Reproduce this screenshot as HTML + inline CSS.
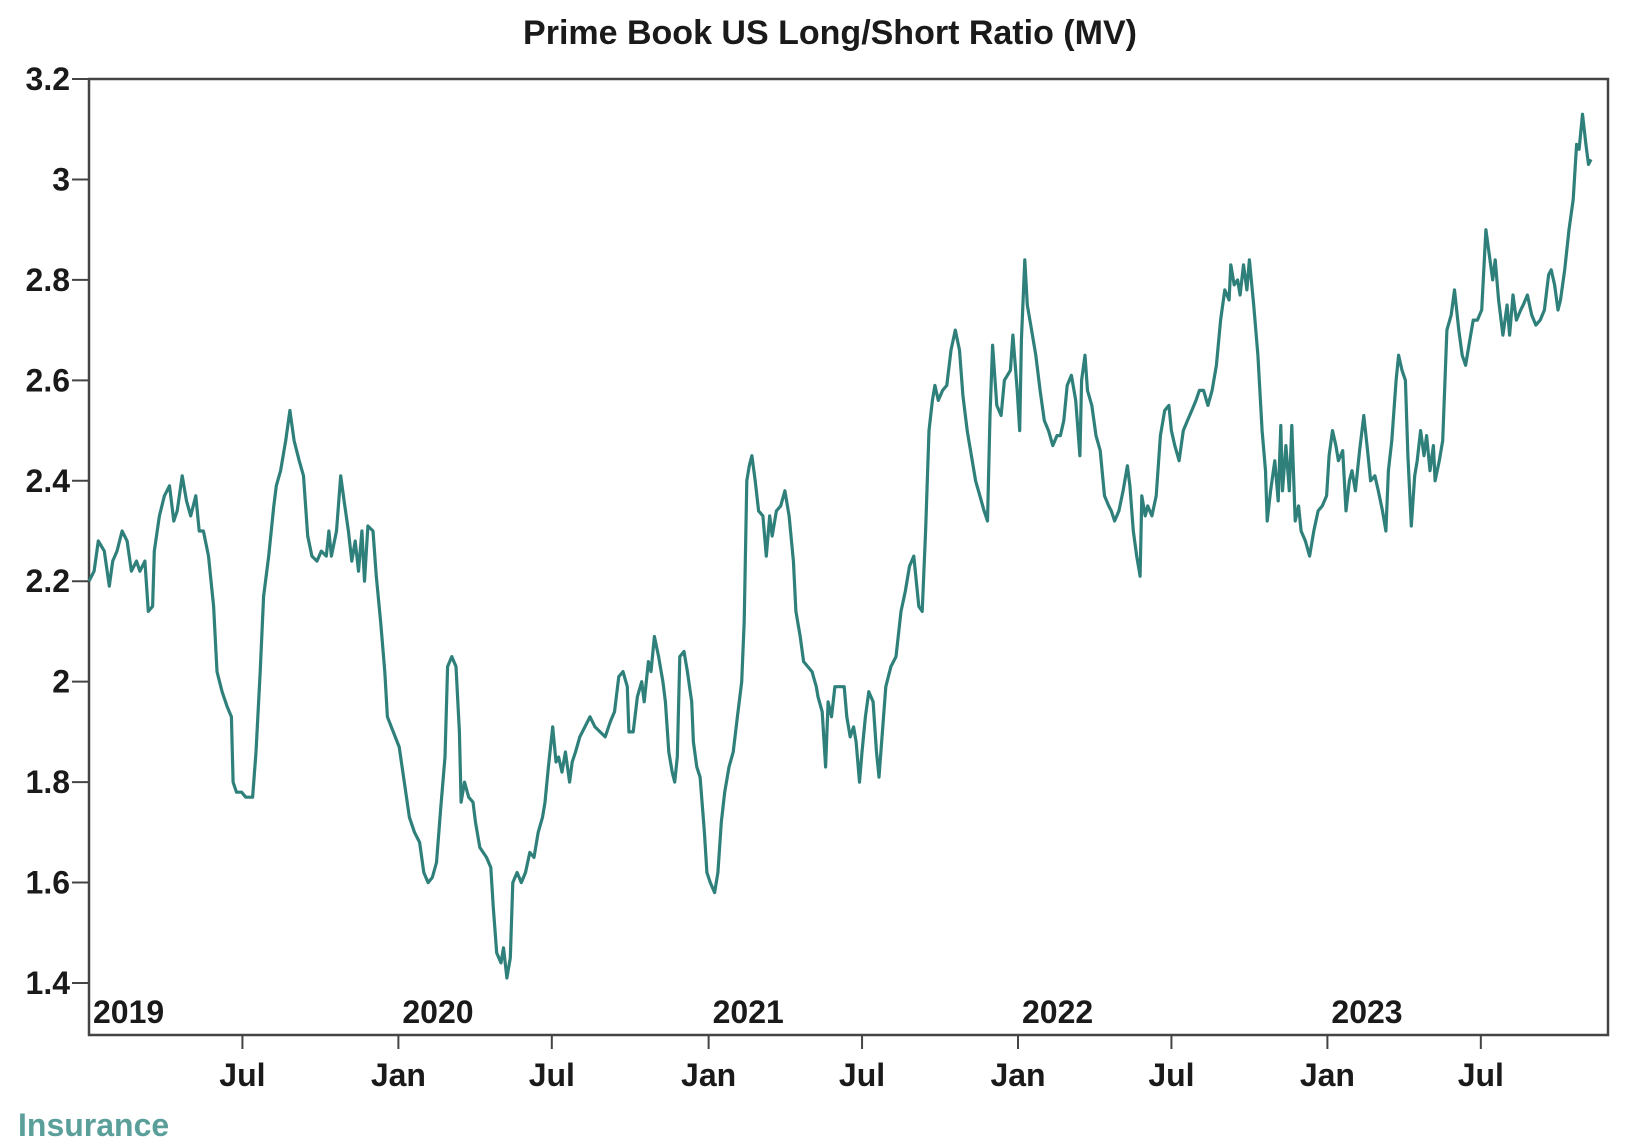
<!DOCTYPE html>
<html><head><meta charset="utf-8"><style>
html,body{margin:0;padding:0;background:#fff;}
svg{display:block;}
text{font-family:"Liberation Sans Narrow","Liberation Sans",sans-serif;font-weight:bold;fill:#1a1a1a;}
</style></head><body>
<svg id="chart" width="1628" height="1144" viewBox="0 0 1628 1144">
<text x="830" y="44" text-anchor="middle" font-size="34">Prime Book US Long/Short Ratio (MV)</text>
<rect x="89" y="79" width="1519" height="956" fill="none" stroke="#444" stroke-width="2.5"/>
<g id="yaxis"></g>
<g id="xaxis"></g>
<path id="line" fill="none" stroke="#2f807b" stroke-width="3.2" stroke-linejoin="round"/>
<text x="18" y="1136" font-size="32" style="fill:#5a9f9a">Insurance</text>
</svg>
<script>
const days=[0,6,11,18,24,28,33,39,45,50,56,60,66,70,75,77,83,89,95,100,104,110,115,120,126,130,135,141,147,151,157,163,168,170,174,180,185,193,197,202,206,212,218,221,226,232,237,242,248,253,258,263,269,274,280,283,286,292,297,301,306,310,314,318,322,325,329,335,339,344,349,352,359,366,372,378,384,390,395,400,405,410,415,420,423,428,433,437,439,443,448,453,456,461,469,474,477,481,486,489,493,497,500,505,510,515,520,525,530,535,538,542,547,551,554,558,562,567,570,574,579,585,591,597,603,609,615,620,625,630,635,637,642,647,652,655,660,663,667,672,677,680,684,688,691,694,697,702,706,711,713,717,721,726,729,733,738,742,746,750,755,760,765,770,773,776,779,782,786,790,795,799,803,806,811,816,821,826,831,834,839,843,848,853,858,860,865,869,872,876,880,885,891,894,898,902,905,909,912,916,920,925,929,932,936,940,946,952,958,963,968,973,976,979,983,987,991,995,998,1002,1007,1012,1017,1022,1027,1031,1036,1041,1046,1051,1056,1060,1063,1066,1071,1076,1080,1087,1090,1095,1098,1100,1104,1107,1112,1117,1122,1127,1132,1137,1142,1146,1150,1154,1159,1164,1169,1171,1175,1178,1183,1188,1193,1198,1203,1206,1210,1215,1220,1225,1228,1232,1236,1240,1242,1246,1249,1254,1259,1264,1269,1274,1277,1281,1286,1291,1296,1301,1306,1310,1315,1320,1325,1330,1335,1340,1345,1347,1351,1355,1358,1362,1366,1369,1374,1379,1384,1388,1390,1394,1399,1403,1406,1408,1412,1416,1419,1423,1427,1430,1435,1440,1445,1450,1455,1460,1463,1467,1471,1474,1479,1483,1487,1490,1494,1499,1504,1509,1512,1517,1521,1526,1530,1533,1537,1542,1545,1549,1553,1556,1560,1564,1567,1571,1575,1578,1582,1586,1588,1593,1597,1602,1607,1611,1616,1620,1624,1629,1633,1638,1643,1648,1652,1656,1659,1663,1668,1673,1676,1680,1684,1689,1692,1697,1702,1707,1712,1717,1722,1725,1729,1733,1736,1741,1746,1751,1755,1758,1762,1766,1769,1772];
const values=[2.20,2.22,2.28,2.26,2.19,2.24,2.26,2.30,2.28,2.22,2.24,2.22,2.24,2.14,2.15,2.26,2.33,2.37,2.39,2.32,2.34,2.41,2.36,2.33,2.37,2.30,2.30,2.25,2.15,2.02,1.98,1.95,1.93,1.80,1.78,1.78,1.77,1.77,1.86,2.02,2.17,2.25,2.35,2.39,2.42,2.48,2.54,2.48,2.44,2.41,2.29,2.25,2.24,2.26,2.25,2.30,2.25,2.30,2.41,2.36,2.30,2.24,2.28,2.22,2.30,2.20,2.31,2.30,2.21,2.12,2.02,1.93,1.90,1.87,1.80,1.73,1.70,1.68,1.62,1.60,1.61,1.64,1.75,1.85,2.03,2.05,2.03,1.90,1.76,1.80,1.77,1.76,1.72,1.67,1.65,1.63,1.55,1.46,1.44,1.47,1.41,1.45,1.60,1.62,1.60,1.62,1.66,1.65,1.70,1.73,1.76,1.83,1.91,1.84,1.85,1.82,1.86,1.80,1.84,1.86,1.89,1.91,1.93,1.91,1.90,1.89,1.92,1.94,2.01,2.02,1.99,1.90,1.90,1.97,2.00,1.96,2.04,2.02,2.09,2.05,2.00,1.96,1.86,1.82,1.80,1.85,2.05,2.06,2.02,1.96,1.88,1.83,1.81,1.70,1.62,1.60,1.58,1.62,1.72,1.78,1.83,1.86,1.93,2.00,2.12,2.40,2.43,2.45,2.40,2.34,2.33,2.25,2.33,2.29,2.34,2.35,2.38,2.33,2.24,2.14,2.09,2.04,2.03,2.02,1.99,1.97,1.94,1.83,1.96,1.93,1.99,1.99,1.99,1.93,1.89,1.91,1.88,1.80,1.86,1.93,1.98,1.96,1.86,1.81,1.90,1.99,2.03,2.05,2.14,2.18,2.23,2.25,2.20,2.15,2.14,2.30,2.50,2.56,2.59,2.56,2.58,2.59,2.66,2.70,2.66,2.57,2.50,2.45,2.40,2.37,2.34,2.32,2.53,2.67,2.55,2.53,2.60,2.62,2.69,2.58,2.50,2.68,2.84,2.75,2.70,2.65,2.58,2.52,2.50,2.47,2.49,2.49,2.52,2.59,2.61,2.56,2.45,2.60,2.65,2.58,2.55,2.49,2.46,2.37,2.35,2.34,2.32,2.34,2.38,2.43,2.39,2.30,2.25,2.21,2.37,2.33,2.35,2.33,2.37,2.49,2.54,2.55,2.50,2.47,2.44,2.50,2.52,2.54,2.56,2.58,2.58,2.55,2.58,2.63,2.72,2.78,2.76,2.83,2.79,2.80,2.77,2.83,2.78,2.84,2.75,2.65,2.50,2.42,2.32,2.38,2.44,2.36,2.51,2.38,2.47,2.38,2.51,2.32,2.35,2.30,2.28,2.25,2.30,2.34,2.35,2.37,2.45,2.50,2.47,2.44,2.46,2.34,2.40,2.42,2.38,2.46,2.53,2.45,2.40,2.41,2.38,2.34,2.30,2.42,2.48,2.60,2.65,2.62,2.60,2.45,2.31,2.41,2.44,2.50,2.45,2.49,2.42,2.47,2.40,2.44,2.48,2.70,2.73,2.78,2.70,2.65,2.63,2.68,2.72,2.72,2.74,2.90,2.85,2.80,2.84,2.76,2.69,2.75,2.69,2.77,2.72,2.74,2.75,2.77,2.73,2.71,2.72,2.74,2.81,2.82,2.79,2.74,2.76,2.82,2.90,2.96,3.07,3.06,3.13,3.07,3.03,3.04];
const yTicks=[1.4,1.6,1.8,2,2.2,2.4,2.6,2.8,3,3.2];
const yTickLabels=["1.4","1.6","1.8","2","2.2","2.4","2.6","2.8","3","3.2"];
const monthTickDays=[181,365,546,731,912,1096,1277,1461,1642];
const monthTickLabels=["Jul","Jan","Jul","Jan","Jul","Jan","Jul","Jan","Jul"];
const yearDays=[0,365,731,1096,1461];
const yearLabels=["2019","2020","2021","2022","2023"];

const NS="http://www.w3.org/2000/svg";
const X0=89,PXYEAR=309.6,YTOP=79,YBOT=983,VMAX=3.2,VMIN=1.4;
function xs(d){return X0+d/365.25*PXYEAR;}
function ys(v){return YTOP+(VMAX-v)/(VMAX-VMIN)*(YBOT-YTOP);}
function mk(tag,attrs,parent){const e=document.createElementNS(NS,tag);for(const k in attrs)e.setAttribute(k,attrs[k]);parent.appendChild(e);return e;}

const ya=document.getElementById('yaxis');
yTicks.forEach((v,i)=>{
  const t=mk('line',{x1:72,x2:89,y1:ys(v),y2:ys(v),stroke:'#444','stroke-width':2},ya);
  
  
  const l=mk('text',{x:70,y:ys(v)+11,'text-anchor':'end','font-size':32},ya);
  l.textContent=yTickLabels[i];
  
  
});
const xa=document.getElementById('xaxis');
monthTickDays.forEach((d,i)=>{
  const t=mk('line',{x1:xs(d),x2:xs(d),y1:1035,y2:1049,stroke:'#444','stroke-width':2},xa);
  
  
  const l=mk('text',{x:xs(d),y:1086,'text-anchor':'middle','font-size':32},xa);
  l.textContent=monthTickLabels[i];
  
  
});
yearDays.forEach((d,i)=>{
  const l=mk('text',{x:xs(d)+4,y:1023,'font-size':32},xa);
  l.textContent=yearLabels[i];
  
  
});
let p='';
days.forEach((d,i)=>{p+=(i?'L':'M')+xs(d).toFixed(1)+','+ys(values[i]).toFixed(1);});
document.getElementById('line').setAttribute('d',p);
</script>
</body></html>
